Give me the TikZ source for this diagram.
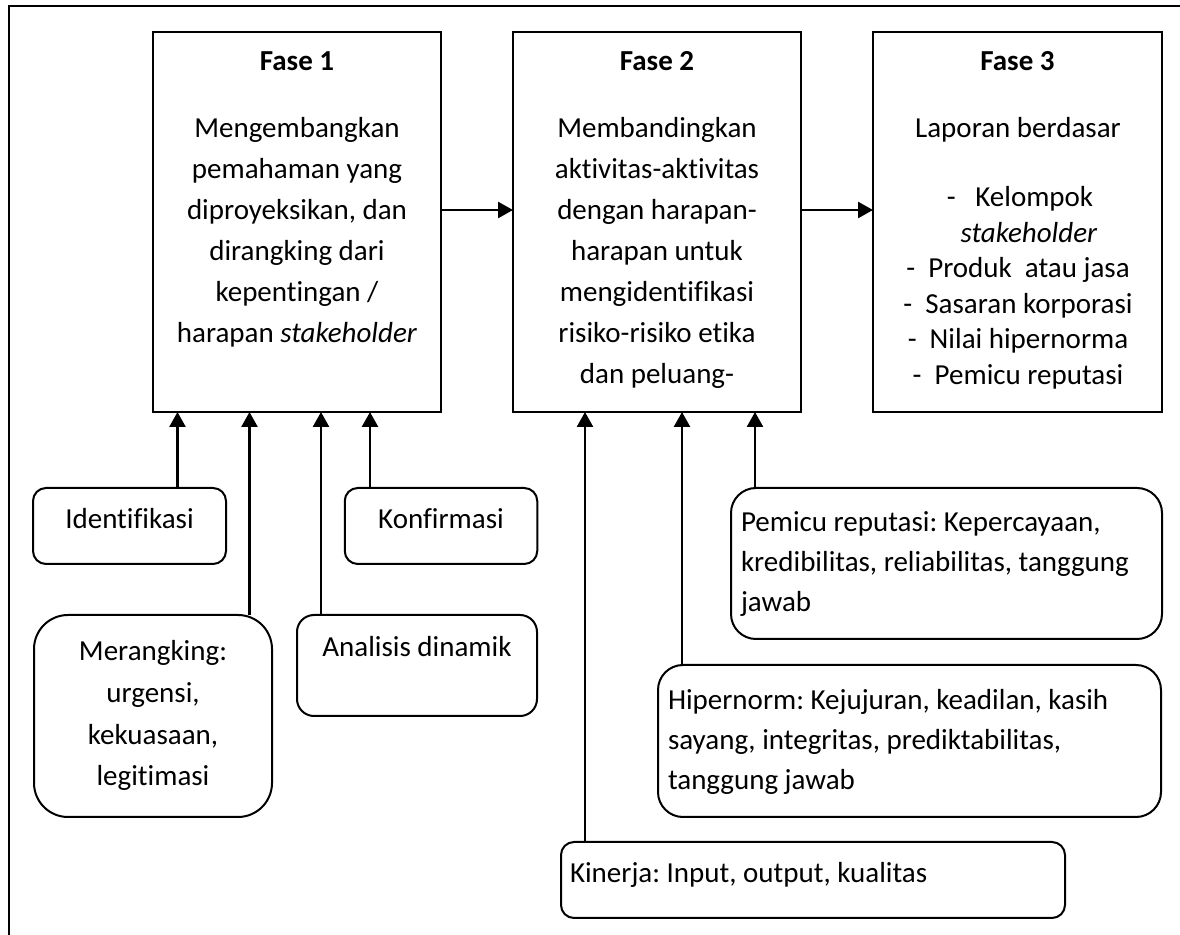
\documentclass[tikz,border=0pt]{standalone}
\usepackage{fontspec}
\setmainfont{Carlito}[Ligatures={NoCommon}]
\usetikzlibrary{arrows.meta}
\frenchspacing
\begin{document}
\begin{tikzpicture}[x=0.5pt,y=-0.5pt,
  box/.style={draw, line width=1pt, inner sep=0pt, outer sep=0pt},
  rbox/.style={box, rounded corners=#1},
  txt/.style={inner sep=0pt, outer sep=0pt, font=\fontsize{14.5pt}{17pt}\selectfont},
  ctext/.style={txt, anchor=base},
  ltext/.style={txt, anchor=base west},
  arr/.style={-{Triangle[length=7.5pt,width=8pt]}, line width=1.3pt}]
\useasboundingbox (0,0) rectangle (1180,935);
% outer frame
\draw[line width=1pt] (8.6,935) -- (8.6,6) -- (1180,6);
% phase boxes
\node[box, minimum width=144pt, minimum height=190pt] (f1) at (297,222) {};
\node[box, minimum width=144pt, minimum height=190pt] (f2) at (657,222) {};
\node[box, minimum width=144.5pt, minimum height=190pt] (f3) at (1017.5,222) {};
% phase 1 text
\node[ctext] (f1t) at (297,71) {\bfseries Fase 1};
\node[ctext] (f1a) at (297,138) {Mengembangkan};
\node[ctext] (f1b) at (297,179) {pemahaman yang};
\node[ctext] (f1c) at (297,220) {diproyeksikan, dan};
\node[ctext] (f1d) at (297,261) {dirangking dari};
\node[ctext] (f1e) at (297,302) {kepentingan /};
\node[ctext] (f1f) at (297,343) {harapan \textit{stakeholder}};
% phase 2 text
\node[ctext] (f2t) at (657,71) {\bfseries Fase 2};
\node[ctext] (f2a) at (657,138) {Membandingkan};
\node[ctext] (f2b) at (657,179) {aktivitas-aktivitas};
\node[ctext] (f2c) at (657,220) {dengan harapan-};
\node[ctext] (f2d) at (657,261) {harapan untuk};
\node[ctext] (f2e) at (657,302) {mengidentifikasi};
\node[ctext] (f2f) at (657,343) {risiko-risiko etika};
\node[ctext] (f2g) at (657,384) {dan peluang-};
% phase 3 text
\node[ctext] (f3t) at (1017.5,71) {\bfseries Fase 3};
\node[ctext] (f3a) at (1018,138) {Laporan berdasar};
\node[ctext] (f3b) at (1020,207) {-~~~Kelompok};
\node[ctext] (f3c) at (1029,242.5) {\textit{stakeholder}};
\node[ctext] (f3d) at (1018,278) {-~~Produk~~atau jasa};
\node[ctext] (f3e) at (1018,313.5) {-~~Sasaran korporasi};
\node[ctext] (f3f) at (1018,349) {-~~Nilai hipernorma};
\node[ctext] (f3g) at (1018,385) {-~~Pemicu reputasi};
% input boxes for phase 1
\node[rbox=6.5pt, minimum width=96.5pt, minimum height=38pt] (ident) at (129.5,526) {};
\node[ctext] (identt) at (129.5,529) {Identifikasi};
\node[rbox=6.5pt, minimum width=96.25pt, minimum height=38pt] (konf) at (441,526) {};
\node[ctext] (konft) at (441,529) {Konfirmasi};
\node[rbox=17pt, minimum width=119pt, minimum height=101pt] (rank) at (153,716) {};
\node[ctext] (ranka) at (153,661) {Merangking:};
\node[ctext] (rankb) at (153,703) {urgensi,};
\node[ctext] (rankc) at (153,745) {kekuasaan,};
\node[ctext] (rankd) at (153,786) {legitimasi};
\node[rbox=8.5pt, minimum width=120pt, minimum height=50.5pt] (anal) at (417,665.5) {};
\node[ctext] (analt) at (417,657) {Analisis dinamik};
% input boxes for phase 2
\node[rbox=12.5pt, minimum width=215.5pt, minimum height=75.5pt] (pem) at (946.5,563.5) {};
\node[ltext] (pema) at (741,532) {Pemicu reputasi: Kepercayaan,};
\node[ltext] (pemb) at (741,572) {kredibilitas, reliabilitas, tanggung};
\node[ltext] (pemc) at (741,612) {jawab};
\node[rbox=12.5pt, minimum width=251.5pt, minimum height=76pt] (hip) at (909.5,741) {};
\node[ltext] (hipa) at (668,710) {Hipernorm: Kejujuran, keadilan, kasih};
\node[ltext] (hipb) at (668,750) {sayang, integritas, prediktabilitas,};
\node[ltext] (hipc) at (668,790) {tanggung jawab};
\node[rbox=6.5pt, minimum width=252pt, minimum height=38pt] (kin) at (813,880) {};
\node[ltext] (kint) at (570,883) {Kinerja: Input, output, kualitas};
% connector x positions
\coordinate (xa) at (177.5,0);
\coordinate (xb) at (249.5,0);
\coordinate (xc) at (321,0);
\coordinate (xd) at (370,0);
\coordinate (xe) at (585,0);
\coordinate (xf) at (682,0);
\coordinate (xg) at (755,0);
\coordinate (hy) at (0,210);
% connectors
\draw[arr] (ident.north -| xa) -- (f1.south -| xa);
\draw[arr] (rank.north -| xb) -- (f1.south -| xb);
\draw[arr] (anal.north -| xc) -- (f1.south -| xc);
\draw[arr] (konf.north -| xd) -- (f1.south -| xd);
\draw[arr] (kin.north -| xe) -- (f2.south -| xe);
\draw[arr] (hip.north -| xf) -- (f2.south -| xf);
\draw[arr] (pem.north -| xg) -- (f2.south -| xg);
\draw[arr] (f1.east |- hy) -- (f2.west |- hy);
\draw[arr] (f2.east |- hy) -- (f3.west |- hy);
\end{tikzpicture}
\end{document}
